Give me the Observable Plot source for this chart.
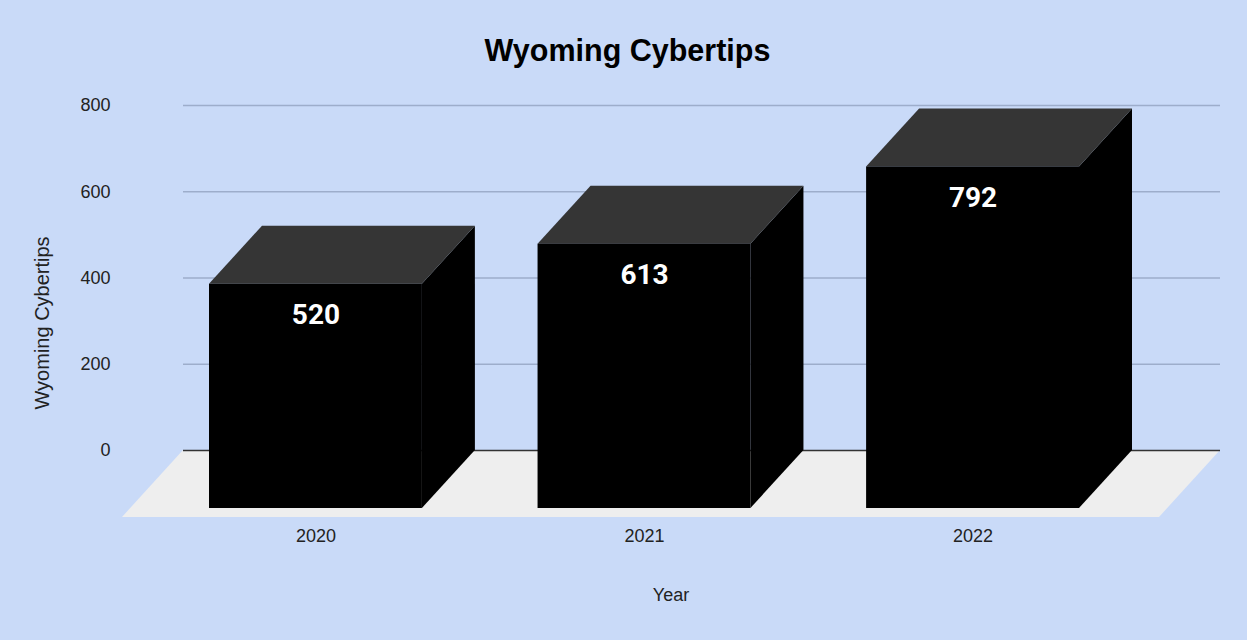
<!DOCTYPE html>
<html>
<head>
<meta charset="utf-8">
<script src="https://cdn.jsdelivr.net/npm/d3@7"></script>
<script src="https://cdn.jsdelivr.net/npm/@observablehq/plot@0.6"></script>
<style>
  html, body { margin: 0; padding: 0; background: #c9daf8; }
  #wrap { position: relative; width: 1247px; height: 640px; background: #c9daf8; overflow: hidden; }
  #title { position: absolute; left: 4px; top: 33px; width: 1247px; height: 36px; line-height: 36px;
           text-align: center; font: bold 30.5px "Liberation Sans", Arial, sans-serif; color: #000; }
  #chart { position: absolute; left: 0; top: 80px; }
</style>
</head>
<body>
<div id="wrap">
  <div id="title">Wyoming Cybertips</div>
  <div id="chart"></div>
</div>
<script>
const years = ["2020", "2021", "2022"];
const cybertips = [520, 613, 792];
const yTicks = [0, 200, 400, 600, 800];
const yLabel = "Wyoming Cybertips";
const xLabel = "Year";

const data = years.map((year, i) => ({year, value: cybertips[i]}));

// 3D depth offsets (pixels)
const DX = -53, DY = 58;     // bar depth
const FDX = -61, FDY = 67;   // floor depth

const svgNS = "http://www.w3.org/2000/svg";
function poly(doc, pts, fill) {
  const p = doc.createElementNS(svgNS, "polygon");
  p.setAttribute("points", pts.map(q => q.join(",")).join(" "));
  p.setAttribute("fill", fill);
  return p;
}

// floor parallelogram
function floorMark(index, scales, values, dim, context) {
  const doc = context.document;
  const g = doc.createElementNS(svgNS, "g");
  const y0 = scales.y(0);
  const xl = dim.marginLeft, xr = dim.width - dim.marginRight;
  g.appendChild(poly(doc, [[xl, y0], [xr, y0], [xr + FDX, y0 + FDY], [xl + FDX, y0 + FDY]], "#eeeeee"));
  return g;
}

// side and top faces of the boxes
function boxMark(index, scales, values, dim, context) {
  const doc = context.document;
  const g = doc.createElementNS(svgNS, "g");
  const bw = scales.x.bandwidth();
  const y0 = scales.y(0);
  for (const d of data) {
    const x0 = scales.x(d.year), x1 = x0 + bw, yv = scales.y(d.value);
    g.appendChild(poly(doc, [[x1, y0], [x1, yv], [x1 + DX, yv + DY], [x1 + DX, y0 + DY]], "#000000"));
    g.appendChild(poly(doc, [[x0, yv], [x1, yv], [x1 + DX, yv + DY], [x0 + DX, yv + DY]], "#353535"));
  }
  return g;
}

const chart = Plot.plot({
  width: 1247,
  height: 560,
  marginLeft: 183,
  marginRight: 27,
  marginTop: 25,
  marginBottom: 190,
  style: {background: "#c9daf8", fontFamily: "'Liberation Sans', Arial, sans-serif", color: "#222"},
  x: {domain: years, range: [262, 1132], paddingInner: 0.352, paddingOuter: 0, round: false, label: null},
  y: {domain: [0, 800], label: null},
  marks: [
    floorMark,
    Plot.gridY(yTicks.filter(t => t > 0), {stroke: "#9dadcb", strokeOpacity: 1, strokeWidth: 1.5}),
    Plot.ruleY([0], {stroke: "#333333", strokeWidth: 1.5}),
    boxMark,
    Plot.barY(data, {x: "year", y: "value", fill: "#000000", dx: DX, dy: DY}),
    Plot.axisY({ticks: yTicks, tickSize: 0, tickPadding: 73, fontSize: 18, label: null, fill: "#222"}),
    Plot.axisX({tickSize: 0, tickPadding: 79, fontSize: 18, dx: DX, label: null, fill: "#222"}),
    Plot.text(data, {x: "year", y: "value", text: d => String(d.value), dx: DX, dy: DY + 31,
      fill: "white", fontSize: 28, fontWeight: "bold", fontFamily: "Roboto", lineAnchor: "middle"}),
    Plot.text([yLabel], {frameAnchor: "left", rotate: -90, dx: -141, dy: 45, fontSize: 20, fill: "#222",
      lineAnchor: "middle", textAnchor: "middle"}),
    Plot.text([xLabel], {frameAnchor: "bottom", dx: -31, dy: 145, fontSize: 18, fill: "#222", lineAnchor: "middle"})
  ]
});
document.getElementById("chart").appendChild(chart);
</script>
</body>
</html>
